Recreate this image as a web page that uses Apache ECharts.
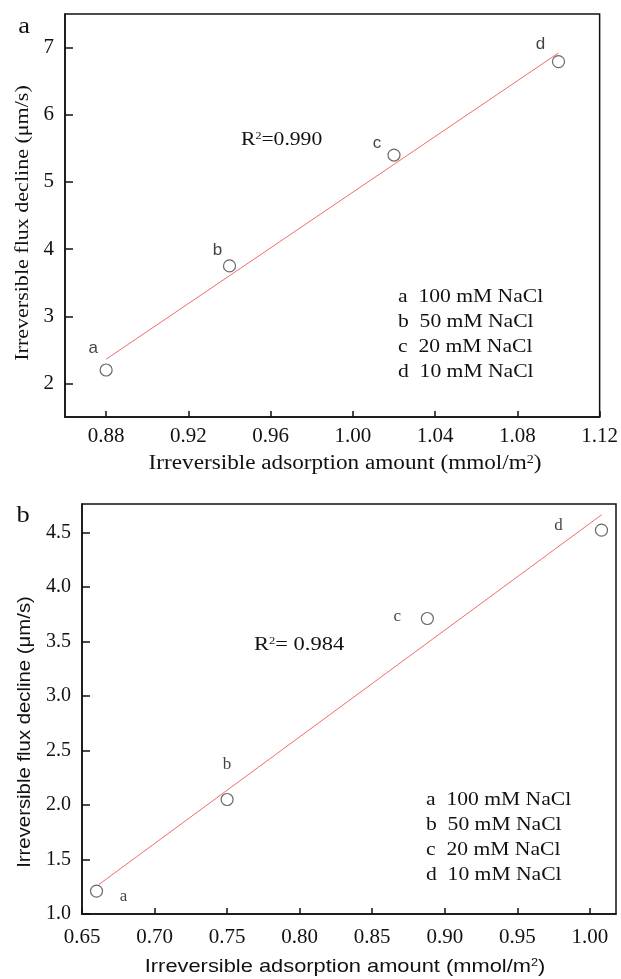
<!DOCTYPE html>
<html>
<head>
<meta charset="utf-8">
<script src="https://cdn.jsdelivr.net/npm/echarts@6/dist/echarts.min.js"></script>
<style>
  html, body { margin: 0; padding: 0; background: #fff; }
  #main { width: 621px; height: 979px; }
</style>
</head>
<body>
<div id="main"></div>
<script>
// panel a data
var pointsA = [[0.88, 2.2], [0.94, 3.75], [1.02, 5.4], [1.10, 6.79]];
var fitA = [[0.88, 2.36], [1.10, 6.92]];
var xTicksA = [0.88, 0.92, 0.96, 1.00, 1.04, 1.08, 1.12];
var yTicksA = [2, 3, 4, 5, 6, 7];

// panel b data
var pointsB = [[0.66, 1.21], [0.75, 2.05], [0.888, 3.71], [1.008, 4.52]];
var fitB = [[0.6616, 1.27], [1.008, 4.66]];
var xTicksB = [0.65, 0.70, 0.75, 0.80, 0.85, 0.90, 0.95, 1.00];
var yTicksB = [1.0, 1.5, 2.0, 2.5, 3.0, 3.5, 4.0, 4.5];

var pointNames = ['a', 'b', 'c', 'd'];
var legendLines = ['a  100 mM NaCl', 'b  50 mM NaCl', 'c  20 mM NaCl', 'd  10 mM NaCl'];

// label offsets (px) around each marker
var offsA = [[-13, -22], [-12, -16], [-17, -12], [-18, -17]];
var offsB = [[27, 5], [0, -35], [-30, -2], [-43, -5]];

var serif = '"Liberation Serif", "Times New Roman", serif';
var sans = '"Liberation Sans", Arial, sans-serif';

function scatterData(pts, offs, font) {
  return pts.map(function (p, i) {
    return {
      value: p,
      label: {
        show: true,
        formatter: pointNames[i],
        position: 'inside',
        offset: offs[i],
        fontFamily: font,
        fontSize: 17,
        color: '#111'
      }
    };
  });
}

function legendGraphics(x, y0, step) {
  return legendLines.map(function (t, i) {
    return {
      type: 'text', x: x, y: y0 + i * step, scaleX: 1.2,
      style: { text: t, fontFamily: serif, fontSize: 18, fill: '#111', verticalAlign: 'middle' }
    };
  });
}

function supText(txt, x, y, font, size, sx, align, rot) {
  return {
    type: 'text', x: x, y: y, scaleX: sx, rotation: rot || 0,
    style: {
      text: txt, fontFamily: font, fontSize: size, fill: '#111',
      align: align, verticalAlign: 'middle',
      rich: { s: { fontFamily: font, fontSize: Math.round(size * 0.58), verticalAlign: 'top', fill: '#111' } }
    }
  };
}

var axisLineStyle = { color: '#111', width: 1.5 };

var option = {
  backgroundColor: '#fff',
  animation: false,
  grid: [
    { left: 65, top: 14, width: 537, height: 403, show: true, borderColor: '#111', borderWidth: 1.5 },
    { left: 82, top: 504, width: 534, height: 410, show: true, borderColor: '#111', borderWidth: 1.5 }
  ],
  xAxis: [
    {
      gridIndex: 0, type: 'value', min: 0.86, max: 1.12,
      axisLine: { lineStyle: axisLineStyle },
      axisTick: { inside: true, length: 6, customValues: xTicksA, lineStyle: axisLineStyle },
      axisLabel: {
        customValues: xTicksA, margin: 9, color: '#111', fontFamily: serif, fontSize: 21,
        formatter: function (v) { return v.toFixed(2); }
      },
      splitLine: { show: false }
    },
    {
      gridIndex: 1, type: 'value', min: 0.65, max: 1.018,
      axisLine: { lineStyle: axisLineStyle },
      axisTick: { inside: true, length: 6, customValues: xTicksB, lineStyle: axisLineStyle },
      axisLabel: {
        customValues: xTicksB, margin: 13, color: '#111', fontFamily: serif, fontSize: 21,
        formatter: function (v) { return v.toFixed(2); }
      },
      splitLine: { show: false }
    }
  ],
  yAxis: [
    {
      gridIndex: 0, type: 'value', min: 1.5, max: 7.5,
      axisLine: { show: true, lineStyle: axisLineStyle },
      axisTick: { show: true, inside: true, length: 8, customValues: yTicksA, lineStyle: axisLineStyle },
      axisLabel: {
        customValues: yTicksA, margin: 11, color: '#111', fontFamily: serif, fontSize: 21,
        formatter: function (v) { return String(v); }
      },
      splitLine: { show: false }
    },
    {
      gridIndex: 1, type: 'value', min: 1.0, max: 4.76,
      axisLine: { show: true, lineStyle: axisLineStyle },
      axisTick: { show: true, inside: true, length: 8, customValues: yTicksB, lineStyle: axisLineStyle },
      axisLabel: {
        customValues: yTicksB, margin: 11, color: '#111', fontFamily: serif, fontSize: 20,
        formatter: function (v) { return v.toFixed(1); }
      },
      splitLine: { show: false }
    }
  ],
  series: [
    {
      type: 'line', xAxisIndex: 0, yAxisIndex: 0, data: fitA,
      showSymbol: false, lineStyle: { color: '#f26b6b', width: 1 }, z: 2
    },
    {
      type: 'scatter', xAxisIndex: 0, yAxisIndex: 0, data: scatterData(pointsA, offsA, sans),
      symbol: 'circle', symbolSize: 12,
      itemStyle: { color: 'rgba(255,255,255,0)', borderColor: '#444', borderWidth: 1.2 }, z: 3
    },
    {
      type: 'line', xAxisIndex: 1, yAxisIndex: 1, data: fitB,
      showSymbol: false, lineStyle: { color: '#f26b6b', width: 1 }, z: 2
    },
    {
      type: 'scatter', xAxisIndex: 1, yAxisIndex: 1, data: scatterData(pointsB, offsB, serif),
      symbol: 'circle', symbolSize: 12,
      itemStyle: { color: 'rgba(255,255,255,0)', borderColor: '#444', borderWidth: 1.2 }, z: 3
    }
  ],
  graphic: [
    // panel letters
    { type: 'text', x: 24, y: 27, scaleX: 1.15, style: { text: 'a', fontFamily: serif, fontSize: 23, fill: '#111', align: 'center', verticalAlign: 'middle' } },
    { type: 'text', x: 23, y: 516, scaleX: 1.15, style: { text: 'b', fontFamily: serif, fontSize: 23, fill: '#111', align: 'center', verticalAlign: 'middle' } },
    // axis titles
    supText('Irreversible flux decline (\u03bcm/s)', 23, 223, serif, 19, 1.16, 'center', Math.PI / 2),
    supText('Irreversible flux decline (\u03bcm/s)', 25, 732, sans, 18, 1.13, 'center', Math.PI / 2),
    supText('Irreversible adsorption amount (mmol/m{s|2})', 345, 464, serif, 20, 1.16, 'center'),
    supText('Irreversible adsorption amount (mmol/m{s|2})', 345, 967, sans, 19, 1.15, 'center'),
    // R squared
    supText('R{s|2}=0.990', 241, 140, serif, 18, 1.2, 'left'),
    supText('R{s|2}= 0.984', 254, 645, serif, 18, 1.25, 'left')
  ].concat(legendGraphics(398, 297, 25)).concat(legendGraphics(426, 800, 25))
};

var chart = echarts.init(document.getElementById('main'));
chart.setOption(option);
</script>
</body>
</html>
